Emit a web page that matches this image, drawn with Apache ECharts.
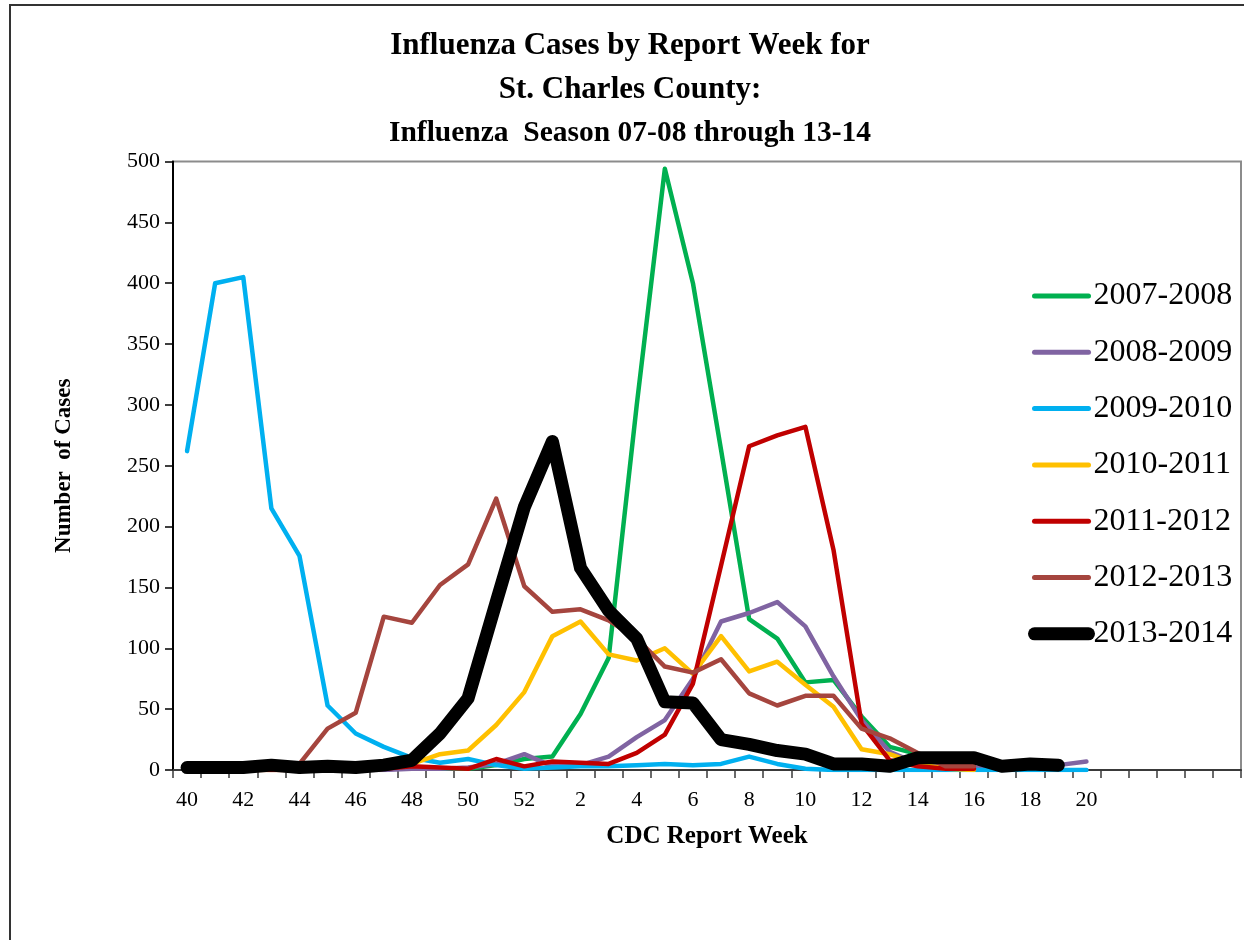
<!DOCTYPE html>
<html>
<head>
<meta charset="utf-8">
<script src="https://cdn.jsdelivr.net/npm/echarts@6/dist/echarts.min.js"></script>
<style>
html,body{margin:0;padding:0;background:#fff;}
#chart{width:1244px;height:940px;}
</style>
</head>
<body>
<div id="chart"></div>
<script>
// CDC report weeks (40..52, 1..20, then empty slots to the right edge)
const weekLabels = ['40','41','42','43','44','45','46','47','48','49','50','51','52',
  '1','2','3','4','5','6','7','8','9','10','11','12','13','14','15','16','17','18','19','20',
  '21','22','23','24','25'];
const lastLabelledIndex = 32;

const seasonNames = ['2007-2008','2008-2009','2009-2010','2010-2011','2011-2012','2012-2013','2013-2014'];
const seasonColors = ['#00B050','#8064A2','#00B0F0','#FFC000','#C00000','#A5453E','#000000'];

//            40  41  42  43  44  45  46  47  48  49  50  51  52 | 1   2   3   4    5    6    7    8    9   10   11   12  13  14  15  16  17  18  19  20
const s0708 = [0,  2,  5,  2,  1,  1,  0,  1,  2,  1,  1,  4,  9,  11, 46, 92, 300, 494, 400, 263, 124, 108, 72,  74,  44, 19, 13, 3,  2];
const s0809 = [0,  0,  1,  0,  0,  0,  0,  0,  1,  1,  2,  5,  13, 3,  4,  11, 27,  41,  75,  122, 129, 138, 118, 77,  41, 15, 5,  2,  2,  2,  3,  4,  7];
const s0910 = [262,400,405,215,176,53, 30, 19, 10, 6,  9,  4,  1,  2,  3,  3,  4,   5,   4,   5,   11,  5,   1,   0,   0,  0,  0,  0,  0,  0,  0,  0,  0];
const s1011 = [0,  0,  0,  0,  0,  0,  0,  1,  5,  13, 16, 37, 64, 110,122,95, 90,  100, 79,  110, 81,  89,  70,  52,  17, 13, 5,  1,  0];
const s1112 = [0,  0,  0,  0,  0,  0,  0,  1,  3,  2,  1,  9,  3,  7,  6,  5,  14,  29,  71,  168, 266, 275, 282, 181, 38, 8,  3,  1,  1];
const s1213 = [0,  1,  1,  1,  5,  34, 47, 126,121,152,169,223,151,130,132,123,108, 85,  80,  91,  63,  53,  61,  61,  34, 26, 14, 3,  3];
const s1314 = [2,  2,  2,  4,  2,  3,  2,  4,  8,  30, 59, 138,216,270,166,131,108, 56,  55,  25,  21,  16,  13,  5,   5,  3,  10, 10, 10, 3,  5,  4];

const seasonData = [s0708, s0809, s0910, s1011, s1112, s1213, s1314];

const yTicks = {min: 0, max: 500, interval: 50};

const SERIF = "'Liberation Serif','Times New Roman',serif";

const chart = echarts.init(document.getElementById('chart'), null, {renderer: 'canvas'});

const series = seasonNames.map((name, i) => {
  const isLast = i === seasonNames.length - 1;
  return {
    name: name,
    type: 'line',
    data: seasonData[i],
    symbol: 'none',
    showSymbol: false,
    smooth: false,
    z: 2 + i,
    lineStyle: {
      color: seasonColors[i],
      width: isLast ? 13 : 4.5,
      cap: 'round',
      join: 'round'
    },
    itemStyle: {color: seasonColors[i]},
    emphasis: {disabled: true},
    animation: false
  };
});

const legendData = seasonNames.map((name, i) => ({
  name: name,
  itemStyle: {opacity: 0, color: 'rgba(0,0,0,0)', borderWidth: 0},
  lineStyle: {width: i === seasonNames.length - 1 ? 13 : 5, cap: 'round', color: seasonColors[i], opacity: 1}
}));

const option = {
  backgroundColor: '#ffffff',
  animation: false,
  grid: {
    left: 173, right: 3, top: 161.5, bottom: 170,
    show: true, borderColor: '#8c8c8c', borderWidth: 2, backgroundColor: 'transparent'
  },
  legend: {
    orient: 'vertical',
    left: 1028,
    top: 280,
    padding: 0,
    itemWidth: 54,
    itemHeight: 16,
    itemGap: 24.3,
    data: legendData,
    textStyle: {fontFamily: SERIF, fontSize: 32, color: '#000', lineHeight: 32},
    selectedMode: false
  },
  xAxis: {
    type: 'category',
    data: weekLabels,
    boundaryGap: true,
    name: 'CDC Report Week',
    nameLocation: 'middle',
    nameGap: 54,
    nameTextStyle: {fontFamily: SERIF, fontSize: 25, fontWeight: 'bold', color: '#000'},
    axisLine: {show: true, lineStyle: {color: '#3a3a3a', width: 2}},
    axisTick: {show: true, interval: 0, length: 8, inside: false, lineStyle: {color: '#3a3a3a', width: 1.5}},
    axisLabel: {
      interval: 1,
      margin: 19,
      fontFamily: SERIF, fontSize: 22, color: '#000',
      formatter: (v, idx) => (idx > lastLabelledIndex ? '' : v)
    },
    splitLine: {show: false}
  },
  yAxis: {
    type: 'value',
    min: yTicks.min, max: yTicks.max, interval: yTicks.interval,
    name: 'Number  of Cases',
    nameLocation: 'middle',
    nameGap: 97,
    nameRotate: 90,
    nameTextStyle: {fontFamily: SERIF, fontSize: 23, fontWeight: 'bold', color: '#000'},
    axisLine: {show: true, lineStyle: {color: '#000', width: 2}},
    axisTick: {show: true, length: 8, inside: false, lineStyle: {color: '#000', width: 1.5}},
    axisLabel: {margin: 13, fontFamily: SERIF, fontSize: 22, color: '#000'},
    splitLine: {show: false}
  },
  graphic: [
    {type: 'polyline', silent: true, z: 100,
     shape: {points: [[10, 940], [10, 5], [1244, 5]]},
     style: {stroke: '#333', lineWidth: 2, fill: null}},
    {type: 'text', x: 630, y: 46, silent: true,
     style: {text: 'Influenza Cases by Report Week for', fill: '#000', font: "bold 31px 'Liberation Serif','Times New Roman',serif", textAlign: 'center', textVerticalAlign: 'middle'}},
    {type: 'text', x: 630, y: 90, silent: true,
     style: {text: 'St. Charles County:', fill: '#000', font: "bold 31px 'Liberation Serif','Times New Roman',serif", textAlign: 'center', textVerticalAlign: 'middle'}},
    {type: 'text', x: 630, y: 133, silent: true,
     style: {text: 'Influenza  Season 07-08 through 13-14', fill: '#000', font: "bold 29.5px 'Liberation Serif','Times New Roman',serif", textAlign: 'center', textVerticalAlign: 'middle'}}
  ],
  series: series
};

chart.setOption(option);
</script>
</body>
</html>
